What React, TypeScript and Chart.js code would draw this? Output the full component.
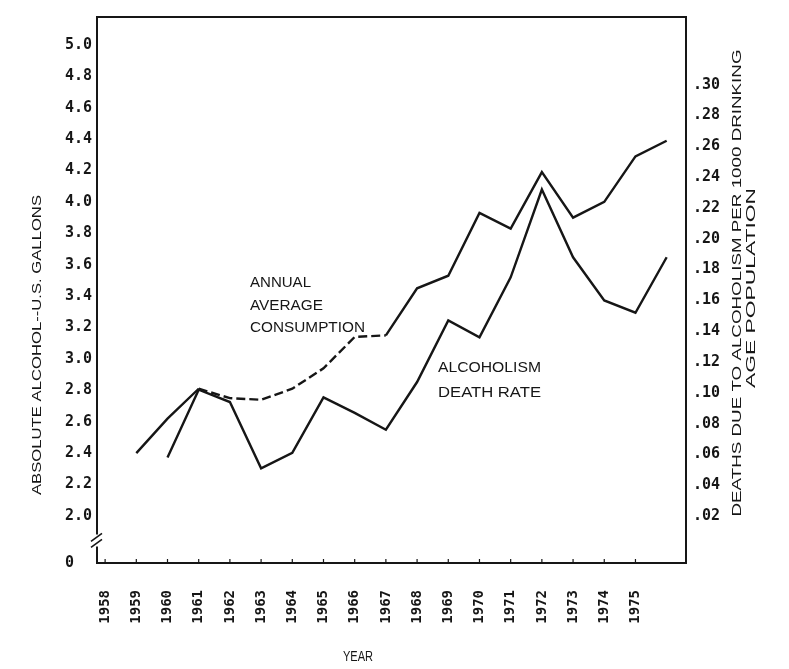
import React, { useEffect, useRef } from 'react';
import { Chart, registerables } from 'chart.js';

Chart.register(...registerables);

// ---- data ----
const yearTicks = [1958, 1959, 1960, 1961, 1962, 1963, 1964, 1965, 1966, 1967, 1968, 1969, 1970, 1971, 1972, 1973, 1974, 1975];

const consumptionYears = [1959, 1960, 1961, 1962, 1963, 1964, 1965, 1966, 1967, 1968, 1969, 1970, 1971, 1972, 1973, 1974, 1975, 1976];
const consumption = [2.40, 2.62, 2.81, 2.75, 2.74, 2.81, 2.94, 3.14, 3.15, 3.45, 3.53, 3.93, 3.83, 4.19, 3.90, 4.00, 4.29, 4.39];

const deathYears = [1960, 1961, 1962, 1963, 1964, 1965, 1966, 1967, 1968, 1969, 1970, 1971, 1972, 1973, 1974, 1975, 1976];
const deathRate = [0.058, 0.102, 0.094, 0.051, 0.061, 0.097, 0.087, 0.076, 0.107, 0.147, 0.136, 0.175, 0.232, 0.188, 0.160, 0.152, 0.188];

const leftTicks = [2.0, 2.2, 2.4, 2.6, 2.8, 3.0, 3.2, 3.4, 3.6, 3.8, 4.0, 4.2, 4.4, 4.6, 4.8, 5.0];
const rightTicks = [0.02, 0.04, 0.06, 0.08, 0.10, 0.12, 0.14, 0.16, 0.18, 0.20, 0.22, 0.24, 0.26, 0.28, 0.30];

const LEFT_MIN = 1.70; // drawn as "0" below the axis break
const LEFT_MAX = 5.178;
const RIGHT_MIN = -0.0105;
const RIGHT_MAX = 0.344;
const X_MIN = 1957.74;
const X_MAX = 1976.62;

const leftTitle = 'ABSOLUTE ALCOHOL--U.S. GALLONS';
const rightTitle1 = 'DEATHS DUE TO ALCOHOLISM PER 1000 DRINKING';
const rightTitle2 = 'AGE POPULATION';
const xTitle = 'YEAR';
const consumptionNote = ['ANNUAL', 'AVERAGE', 'CONSUMPTION'];
const deathNote = ['ALCOHOLISM', 'DEATH RATE'];

const INK = '#161616';
const MONO = '"DejaVu Sans Mono", "Liberation Mono", monospace';
const SANS = '"Liberation Sans", Arial, sans-serif';

function drawFitText(ctx: CanvasRenderingContext2D, text: string, x: number, y: number, angle: number, font: string, targetW: number, align: CanvasTextAlign) {
  ctx.save();
  ctx.translate(x, y);
  ctx.rotate(angle);
  ctx.font = font;
  const w = ctx.measureText(text).width;
  const sx = targetW > 0 ? targetW / w : 1;
  ctx.scale(sx, 1);
  ctx.textAlign = align;
  ctx.textBaseline = 'middle';
  ctx.fillStyle = INK;
  ctx.fillText(text, 0, 0);
  ctx.restore();
}

const framePlugin = {
  id: 'frame',
  afterDraw(chart: any) {
    const { ctx, chartArea: a, scales } = chart;
    ctx.save();
    ctx.strokeStyle = INK;
    ctx.lineWidth = 2;
    const breakY = scales.y.getPixelForValue(1.85);
    ctx.beginPath();
    ctx.moveTo(a.left, breakY - 5);
    ctx.lineTo(a.left, a.top);
    ctx.lineTo(a.right, a.top);
    ctx.lineTo(a.right, a.bottom);
    ctx.lineTo(a.left, a.bottom);
    ctx.lineTo(a.left, breakY + 7);
    ctx.stroke();
    // axis break marks
    ctx.lineWidth = 1.6;
    ctx.beginPath();
    ctx.moveTo(a.left - 6, breakY + 2);
    ctx.lineTo(a.left + 5, breakY - 6);
    ctx.moveTo(a.left - 6, breakY + 8);
    ctx.lineTo(a.left + 5, breakY);
    ctx.stroke();
    // small inside ticks on the year axis
    ctx.lineWidth = 1.2;
    ctx.beginPath();
    yearTicks.forEach((v) => {
      const px = scales.x.getPixelForValue(v);
      ctx.moveTo(px, a.bottom);
      ctx.lineTo(px, a.bottom - 4);
    });
    ctx.stroke();
    ctx.restore();

    // titles
    drawFitText(ctx, leftTitle, 37, 345, -Math.PI / 2, `13px ${SANS}`, 300, 'center');
    drawFitText(ctx, rightTitle1, 737, 283, -Math.PI / 2, `13px ${SANS}`, 467, 'center');
    drawFitText(ctx, rightTitle2, 751, 288, -Math.PI / 2, `13px ${SANS}`, 200, 'center');
    drawFitText(ctx, xTitle, 358, 657, 0, `14px ${SANS}`, 30, 'center');

    // annotations
    const cw = [61, 73, 115];
    consumptionNote.forEach((t, i) => drawFitText(ctx, t, 250, 283 + i * 22.5, 0, `15px ${SANS}`, cw[i], 'left'));
    deathNote.forEach((t, i) => drawFitText(ctx, t, 438, 368 + i * 25, 0, `15px ${SANS}`, 103, 'left'));
  },
};

export default function App() {
  const ref = useRef<HTMLCanvasElement | null>(null);

  useEffect(() => {
    const canvas = ref.current;
    if (!canvas) return;
    const chart = new Chart(canvas, {
      type: 'line',
      data: {
        datasets: [
          {
            label: 'Annual average consumption',
            data: consumptionYears.map((x, i) => ({ x, y: consumption[i] })),
            yAxisID: 'y',
            borderColor: INK,
            borderWidth: 2.4,
            pointRadius: 0,
            tension: 0,
            fill: false,
            segment: {
              borderDash: (c: any) => (c.p0DataIndex >= 2 && c.p0DataIndex <= 7 ? [9, 4] : undefined),
            },
          },
          {
            label: 'Alcoholism death rate',
            data: deathYears.map((x, i) => ({ x, y: deathRate[i] })),
            yAxisID: 'y1',
            borderColor: INK,
            borderWidth: 2.4,
            pointRadius: 0,
            tension: 0,
            fill: false,
          },
        ],
      },
      options: {
        responsive: false,
        maintainAspectRatio: false,
        animation: false,
        events: [],
        layout: { padding: { top: 17, left: 0, right: 0, bottom: 0 } },
        plugins: { legend: { display: false }, tooltip: { enabled: false }, title: { display: false } },
        scales: {
          x: {
            type: 'linear',
            min: X_MIN,
            max: X_MAX,
            afterBuildTicks: (s: any) => {
              s.ticks = yearTicks.map((v) => ({ value: v }));
            },
            afterFit: (s: any) => {
              s.height = 106;
            },
            grid: { display: false, drawTicks: false },
            border: { display: false },
            ticks: {
              autoSkip: false,
              minRotation: 90,
              maxRotation: 90,
              padding: 27,
              color: INK,
              font: { family: MONO, size: 14, weight: 'bold' },
              callback: (v: any) => String(v),
            },
          },
          y: {
            type: 'linear',
            position: 'left',
            min: LEFT_MIN,
            max: LEFT_MAX,
            afterBuildTicks: (s: any) => {
              s.ticks = [{ value: LEFT_MIN }, ...leftTicks.map((v) => ({ value: v }))];
            },
            afterFit: (s: any) => {
              s.width = 97;
            },
            grid: { display: false, drawTicks: false },
            border: { display: false },
            ticks: {
              padding: 5,
              color: INK,
              font: { family: MONO, size: 15, weight: 'bold' },
              callback: (v: any) => (Math.abs(v - LEFT_MIN) < 1e-6 ? '0  ' : Number(v).toFixed(1)),
            },
          },
          y1: {
            type: 'linear',
            position: 'right',
            min: RIGHT_MIN,
            max: RIGHT_MAX,
            afterBuildTicks: (s: any) => {
              s.ticks = rightTicks.map((v) => ({ value: v }));
            },
            afterFit: (s: any) => {
              s.width = 103;
            },
            grid: { display: false, drawTicks: false },
            border: { display: false },
            ticks: {
              padding: 7,
              color: INK,
              font: { family: MONO, size: 15, weight: 'bold' },
              callback: (v: any) => '.' + String(Math.round(Number(v) * 100)).padStart(2, '0'),
            },
          },
        },
      },
      plugins: [framePlugin],
    } as any);
    return () => chart.destroy();
  }, []);

  return (
    <div style={{ position: 'fixed', left: 0, top: 0, width: 789, height: 669, background: '#fff' }}>
      <canvas ref={ref} width={789} height={669} style={{ display: 'block', width: 789, height: 669 }} />
    </div>
  );
}
